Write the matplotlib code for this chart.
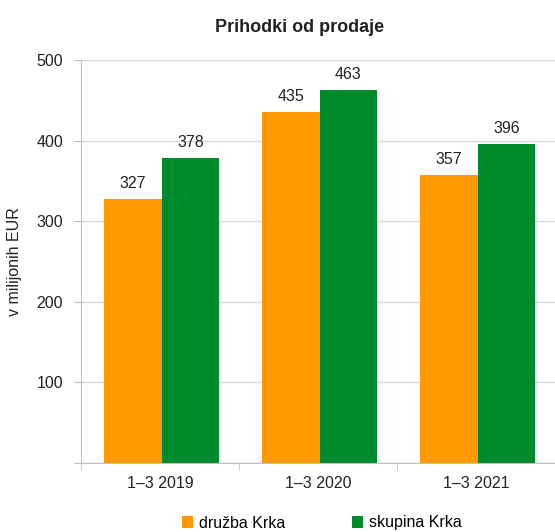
import matplotlib
matplotlib.use("Agg")
import matplotlib.pyplot as plt
import numpy as np

# podatki
kategorije = ["1–3 2019", "1–3 2020", "1–3 2021"]
druzba = [327, 435, 357]
skupina = [378, 463, 396]

plt.rcParams['font.family'] = ['Liberation Sans Narrow', 'Liberation Sans', 'DejaVu Sans']

fig = plt.figure(figsize=(5.55, 5.32), dpi=100)
ax = fig.add_axes([81/555, 1-463/532, 1-81/555, (463-60)/532])

x = np.arange(len(kategorije))
w = 0.365
orange = '#FF9900'
green = '#008A2E'
fs = 11.5

b1 = ax.bar(x - w/2 + 0.01, druzba, w, color=orange, label='družba Krka', zorder=2)
b2 = ax.bar(x + w/2 + 0.01, skupina, w, color=green, label='skupina Krka', zorder=2)

for bars in (b1, b2):
    for r in bars:
        ax.text(r.get_x() + r.get_width()/2, r.get_height() + 10, str(int(r.get_height())),
                ha='center', va='bottom', fontsize=fs, color='#222222')

ax.set_xlim(-0.5, 2.5)
ax.set_ylim(0, 500)
ax.set_yticks([0, 100, 200, 300, 400, 500])
ax.set_yticklabels(['', '100', '200', '300', '400', '500'])
ax.set_xticks(x)
ax.set_xticklabels(kategorije)
ax.set_xticks([-0.5, 0.5, 1.5, 2.5], minor=True)
ax.tick_params(axis='x', which='major', length=0, labelsize=fs, pad=9, colors='#222222')
ax.tick_params(axis='x', which='minor', length=5, color='#BFBFBF')
ax.tick_params(axis='y', length=5, labelsize=fs, pad=8, colors='#222222')
ax.tick_params(axis='y', color='#BFBFBF')

ax.yaxis.grid(True, color='#D9D9D9', linewidth=1, zorder=0)
ax.set_axisbelow(True)
for s in ('top', 'right'):
    ax.spines[s].set_visible(False)
ax.spines['left'].set_color('#BFBFBF')
ax.spines['bottom'].set_color('#BFBFBF')

ax.set_ylabel('v milijonih EUR', fontsize=fs, color='#222222', labelpad=10)

fig.text(300/555, 1-28/532, 'Prihodki od prodaje', ha='center', va='center',
         fontsize=13, fontweight='bold', color='#222222')

fig.legend(handles=[b1, b2], loc='center', bbox_to_anchor=(322/555, 1-523/532),
           ncol=2, frameon=False, fontsize=fs, handlelength=0.7, handleheight=0.7,
           columnspacing=4.15, handletextpad=0.4)

fig.savefig('out.png', dpi=100)
